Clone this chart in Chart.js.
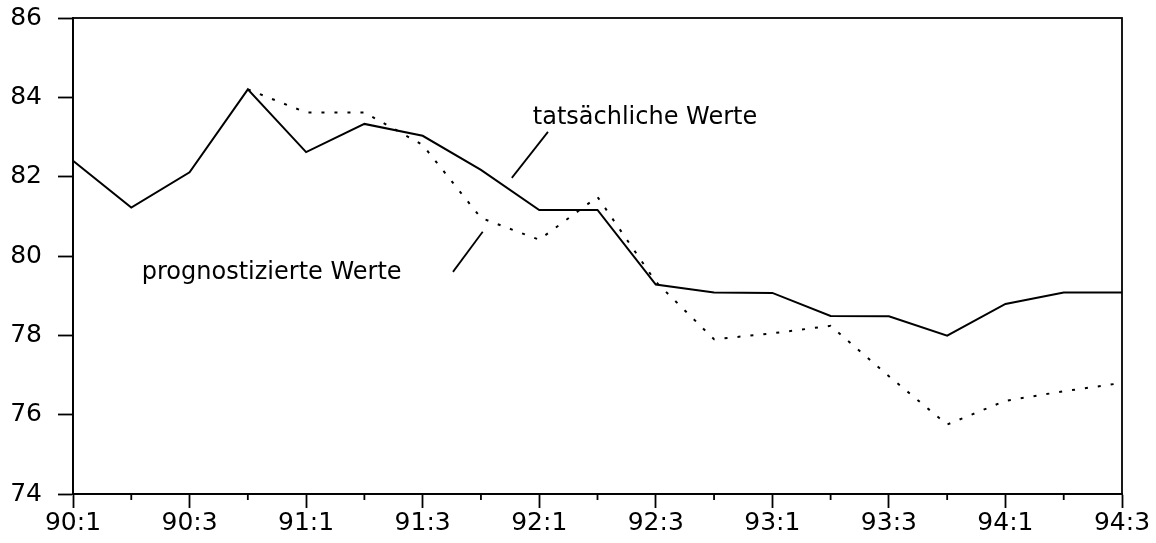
<!DOCTYPE html>
<html lang="de">
<head>
    <meta charset="UTF-8">
    <title>Tatsächliche und prognostizierte Werte</title>
    <style>
        html, body {
            margin: 0;
            padding: 0;
            background: #ffffff;
        }
        #chart {
            display: block;
        }
    </style>
    <script src="https://cdn.jsdelivr.net/npm/chart.js"></script>
</head>
<body>

    <canvas id="chart" width="1156" height="543"></canvas>

    <script>
        // Quartale 90:1 bis 94:3
        const quarters = ['90:1', '90:2', '90:3', '90:4', '91:1', '91:2', '91:3', '91:4',
                          '92:1', '92:2', '92:3', '92:4', '93:1', '93:2', '93:3', '93:4',
                          '94:1', '94:2', '94:3'];

        // tatsächliche Werte (durchgezogene Linie)
        const actualValues = [82.40, 81.22, 82.11, 84.20, 82.62, 83.33, 83.03, 82.17,
                              81.16, 81.16, 79.28, 79.08, 79.07, 78.49, 78.48, 77.99,
                              78.79, 79.08, 79.08];

        // prognostizierte Werte (gepunktete Linie), beginnt bei 90:4
        const forecastValues = [null, null, null, 84.20, 83.62, 83.62, 82.80, 80.96,
                                80.41, 81.49, 79.35, 77.90, 78.05, 78.24, 76.97, 75.75,
                                76.35, 76.59, 76.80];

        const yMin = 74;
        const yMax = 86;
        const yStep = 2;

        // Beschriftungen im Diagramm (in Achsenkoordinaten: Quartalsindex, Wert)
        const notes = [
            { text: 'tatsächliche Werte', at: [7.89, 83.48], from: [8.15, 83.13], to: [7.53, 81.97] },
            { text: 'prognostizierte Werte', at: [1.18, 79.57], from: [6.52, 79.60], to: [7.03, 80.61] }
        ];

        const FONT = '"DejaVu Sans", sans-serif';

        // Rahmen, kleine Zwischenstriche auf der x-Achse und Beschriftungen
        const framePlugin = {
            id: 'frame',
            afterDraw(chart) {
                const ctx = chart.ctx;
                const area = chart.chartArea;
                const x = chart.scales.x;
                const y = chart.scales.y;

                ctx.save();
                ctx.strokeStyle = '#000';
                ctx.lineWidth = 1.8;
                ctx.strokeRect(area.left, area.top, area.right - area.left, area.bottom - area.top);

                // minor ticks at the unlabelled quarters
                ctx.beginPath();
                for (let i = 1; i < quarters.length; i += 2) {
                    const px = x.getPixelForValue(i);
                    ctx.moveTo(px, area.bottom);
                    ctx.lineTo(px, area.bottom + 6);
                }
                ctx.stroke();

                ctx.fillStyle = '#000';
                ctx.font = '24px ' + FONT;
                ctx.textAlign = 'left';
                ctx.textBaseline = 'middle';
                ctx.lineWidth = 1.8;
                notes.forEach(n => {
                    ctx.fillText(n.text, x.getPixelForValue(n.at[0]), y.getPixelForValue(n.at[1]));
                    ctx.beginPath();
                    ctx.moveTo(x.getPixelForValue(n.from[0]), y.getPixelForValue(n.from[1]));
                    ctx.lineTo(x.getPixelForValue(n.to[0]), y.getPixelForValue(n.to[1]));
                    ctx.stroke();
                });
                ctx.restore();
            }
        };

        new Chart(document.getElementById('chart'), {
            type: 'line',
            data: {
                labels: quarters,
                datasets: [
                    {
                        label: 'tatsächliche Werte',
                        data: actualValues,
                        borderColor: '#000',
                        borderWidth: 2,
                        pointRadius: 0,
                        tension: 0,
                        fill: false
                    },
                    {
                        label: 'prognostizierte Werte',
                        data: forecastValues,
                        borderColor: '#000',
                        borderWidth: 2,
                        borderDash: [3, 10],
                        pointRadius: 0,
                        tension: 0,
                        fill: false
                    }
                ]
            },
            options: {
                responsive: false,
                animation: false,
                layout: {
                    padding: { top: 18, right: 34, left: 0, bottom: 0 }
                },
                plugins: {
                    legend: { display: false },
                    tooltip: { enabled: false }
                },
                scales: {
                    x: {
                        offset: false,
                        afterFit: scale => {
                            scale.height = 49;
                            scale.paddingLeft = 0;
                            scale.paddingRight = 0;
                        },
                        grid: {
                            display: true,
                            drawOnChartArea: false,
                            drawTicks: true,
                            tickLength: 14,
                            tickWidth: 1.8,
                            tickColor: ctx => ctx.index % 2 === 0 ? '#000' : 'rgba(0,0,0,0)'
                        },
                        border: { display: true, color: '#000', width: 1.8 },
                        ticks: {
                            autoSkip: false,
                            maxRotation: 0,
                            padding: 0,
                            color: '#000',
                            font: { family: FONT, size: 25 },
                            callback: (val, i) => i % 2 === 0 ? quarters[i] : ''
                        }
                    },
                    y: {
                        min: yMin,
                        max: yMax,
                        afterFit: scale => {
                            scale.width = 73;
                            scale.paddingTop = 0;
                            scale.paddingBottom = 0;
                        },
                        grid: {
                            display: true,
                            drawOnChartArea: false,
                            drawTicks: true,
                            tickLength: 15,
                            tickWidth: 1.8,
                            tickColor: '#000'
                        },
                        border: { display: true, color: '#000', width: 1.8 },
                        ticks: {
                            stepSize: yStep,
                            padding: 16,
                            color: '#000',
                            font: { family: FONT, size: 25 }
                        }
                    }
                }
            },
            plugins: [framePlugin]
        });
    </script>

</body>
</html>
